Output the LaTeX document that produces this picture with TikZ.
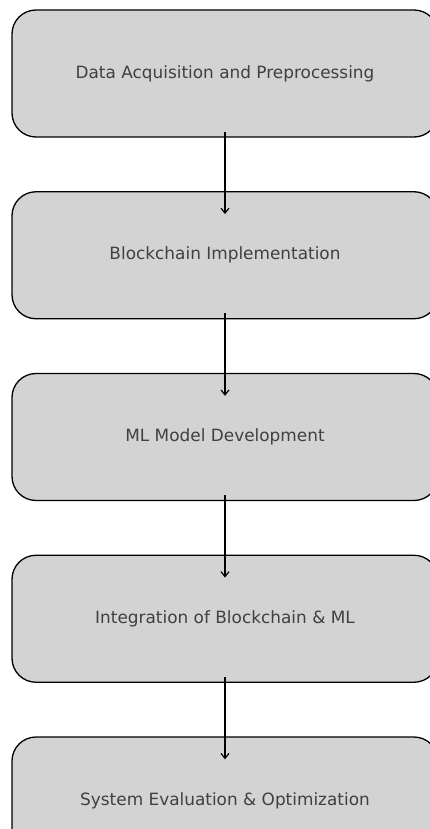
\documentclass[tikz,border=0pt]{standalone}
\usepackage{fontspec}
\setmainfont{DejaVu Sans}
\usetikzlibrary{arrows.meta}
\definecolor{boxfill}{HTML}{D3D3D3}
\definecolor{txt}{HTML}{404040}
\tikzset{
  stage/.style={draw=black, line width=1.3pt, fill=boxfill, rounded corners=24pt,
    minimum width=426pt, minimum height=127pt, inner sep=0pt, text=txt,
    font=\fontsize{16.9}{20}\selectfont},
  flow/.style={draw=black, line width=1.2pt, -{Straight Barb[length=5pt,width=8pt,line width=1.2pt]}}
}
\begin{document}
\begin{tikzpicture}[x=1pt,y=-1pt]
\useasboundingbox (0,0) rectangle (430,829);
\clip (0,0) rectangle (430,829);
\fill[white] (0,0) rectangle (430,829);
\node[stage] (b1) at (225,73.5) {Data Acquisition and Preprocessing};
\node[stage] (b2) at (225,255.25) {Blockchain Implementation};
\node[stage] (b3) at (225,437) {ML Model Development};
\node[stage] (b4) at (225,618.75) {Integration of Blockchain \& ML};
\node[stage] (b5) at (225,800.5) {System Evaluation \& Optimization};
\foreach \a/\b in {b1/b2,b2/b3,b3/b4,b4/b5}{
  \draw[flow] ([yshift=6pt]\a.south) -- ([yshift=-23pt]\b.north);
}
\end{tikzpicture}
\end{document}
